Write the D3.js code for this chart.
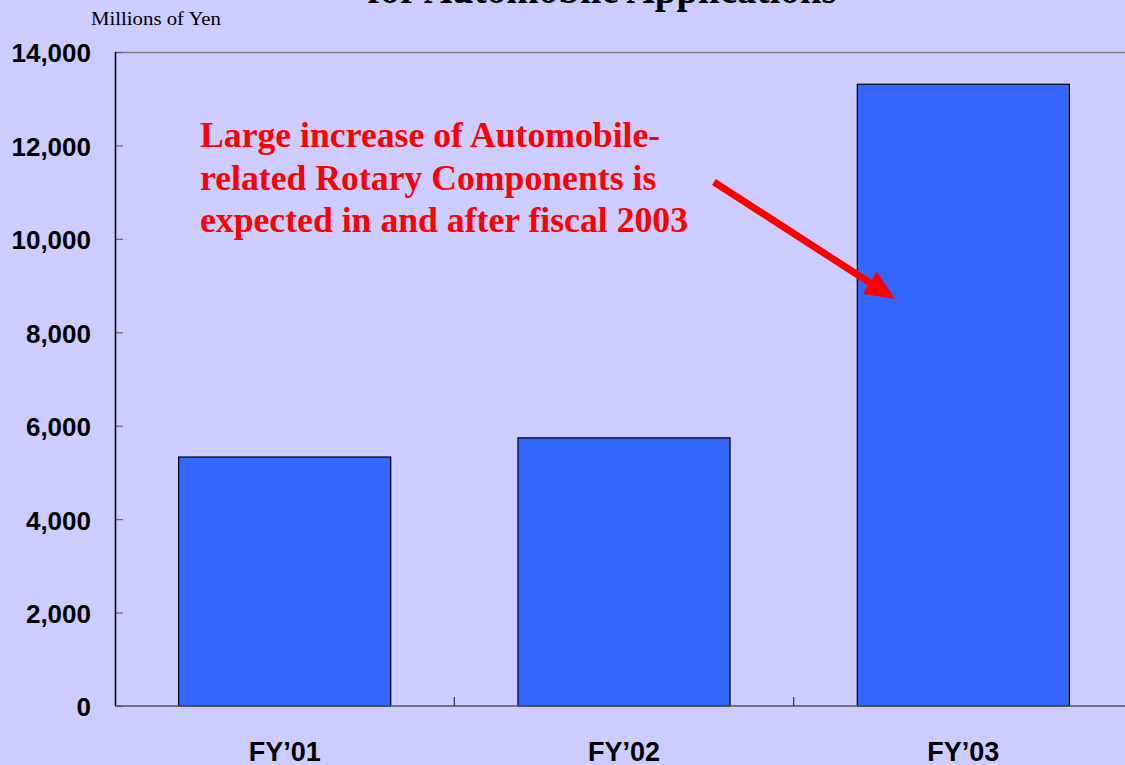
<!DOCTYPE html>
<html>
<head>
<meta charset="utf-8">
<script src="https://cdn.jsdelivr.net/npm/d3@7"></script>
<style>
  body { margin: 0; background: #CCCCFF; overflow: hidden; }
  svg { display: block; }
</style>
</head>
<body>
<div class="chart"></div>
<script>
var categories = ["FY\u201901", "FY\u201902", "FY\u201903"];
var sales = [5330, 5740, 13310];
var yTicks = [0, 2000, 4000, 6000, 8000, 10000, 12000, 14000];
var noteLines = ["Large increase of Automobile-",
                 "related Rotary Components is",
                 "expected in and after fiscal 2003"];

var width = 1125,
    height = 765,
    margin = {top: 52, right: -8, bottom: 59, left: 115};

var plotW = width - margin.left - margin.right,
    plotH = height - margin.top - margin.bottom;

var svg = d3.select(".chart").append("svg")
    .attr("width", width)
    .attr("height", height);

svg.append("rect")
    .attr("width", width)
    .attr("height", height)
    .attr("fill", "#CCCCFF");

var x = d3.scaleBand()
    .domain(categories)
    .range([0, plotW])
    .paddingInner(0.375)
    .paddingOuter(0.1875);

var y = d3.scaleLinear()
    .domain([0, 14000])
    .range([plotH, 0]);

var g = svg.append("g")
    .attr("transform", "translate(" + margin.left + "," + margin.top + ")");

// top border of the plot
g.append("line")
    .attr("x1", 0).attr("x2", plotW)
    .attr("y1", 0.5).attr("y2", 0.5)
    .attr("stroke", "#808080")
    .attr("stroke-width", 1.5);

// bars
g.selectAll("rect.bar")
    .data(sales)
    .enter().append("rect")
    .attr("class", "bar")
    .attr("x", function(d, i) { return x(categories[i]); })
    .attr("y", function(d) { return y(d); })
    .attr("width", x.bandwidth())
    .attr("height", function(d) { return plotH - y(d); })
    .attr("fill", "#3366FF")
    .attr("stroke", "#000")
    .attr("stroke-width", 1.2);

// y axis: ticks point inwards, labels on the left
var yAxis = g.append("g")
    .call(d3.axisRight(y).tickValues(yTicks).tickSize(8).tickFormat(""));
yAxis.select(".domain").remove();
yAxis.selectAll("line").attr("stroke", "#666").attr("stroke-width", 1.2);

g.append("line")
    .attr("x1", 0.5).attr("x2", 0.5)
    .attr("y1", 0).attr("y2", plotH)
    .attr("stroke", "#000")
    .attr("stroke-width", 1.5);

g.selectAll("text.ylab")
    .data(yTicks)
    .enter().append("text")
    .attr("class", "ylab")
    .attr("x", -24)
    .attr("y", function(d) { return y(d); })
    .attr("dy", "0.4em")
    .attr("text-anchor", "end")
    .style("font-family", "'Liberation Sans', Arial, sans-serif")
    .style("font-weight", "bold")
    .style("font-size", "26px")
    .style("fill", "#000")
    .text(function(d) { return d3.format(",")(d); });

// x axis: baseline and band-boundary ticks pointing up
var step = x.step();
var bounds = categories.slice(1).map(function(c) { return x(c) - step * x.paddingInner() / 2; });

g.append("line")
    .attr("x1", 0).attr("x2", plotW)
    .attr("y1", plotH).attr("y2", plotH)
    .attr("stroke", "#555")
    .attr("stroke-width", 1.5);

g.selectAll("line.xtick")
    .data(bounds)
    .enter().append("line")
    .attr("class", "xtick")
    .attr("x1", function(d) { return d; })
    .attr("x2", function(d) { return d; })
    .attr("y1", plotH)
    .attr("y2", plotH - 9)
    .attr("stroke", "#333")
    .attr("stroke-width", 1.2);

g.selectAll("text.xlab")
    .data(categories)
    .enter().append("text")
    .attr("class", "xlab")
    .attr("x", function(d) { return x(d) + x.bandwidth() / 2; })
    .attr("y", plotH + 55)
    .attr("text-anchor", "middle")
    .style("font-family", "'Liberation Sans', Arial, sans-serif")
    .style("font-weight", "bold")
    .style("font-size", "27px")
    .style("fill", "#000")
    .text(function(d) { return d; });

// title (cut off at the top of the frame)
svg.append("text")
    .attr("x", 602)
    .attr("y", 3)
    .attr("text-anchor", "middle")
    .style("font-family", "'Liberation Serif', 'Times New Roman', serif")
    .style("font-weight", "bold")
    .style("font-size", "39px")
    .style("fill", "#000")
    .text("for Automobile Applications");

svg.append("text")
    .attr("x", 91)
    .attr("y", 25)
    .attr("textLength", 130)
    .attr("lengthAdjust", "spacingAndGlyphs")
    .style("font-family", "'Liberation Serif', 'Times New Roman', serif")
    .style("font-size", "19px")
    .style("fill", "#000")
    .text("Millions of Yen");

// annotation
svg.selectAll("text.note")
    .data(noteLines)
    .enter().append("text")
    .attr("class", "note")
    .attr("x", 200)
    .attr("y", function(d, i) { return 147 + i * 42.5; })
    .style("font-family", "'Liberation Serif', 'Times New Roman', serif")
    .style("font-weight", "bold")
    .style("font-size", "35.7px")
    .style("fill", "#FF0000")
    .text(function(d) { return d; });

// arrow
var a0 = [714, 182], a1 = [895, 299];
var ang = Math.atan2(a1[1] - a0[1], a1[0] - a0[0]);
var headLen = 30, headHalf = 13;
var base = [a1[0] - headLen * Math.cos(ang), a1[1] - headLen * Math.sin(ang)];

svg.append("line")
    .attr("x1", a0[0]).attr("y1", a0[1])
    .attr("x2", base[0] + 2 * Math.cos(ang)).attr("y2", base[1] + 2 * Math.sin(ang))
    .attr("stroke", "#FF0000")
    .attr("stroke-width", 7);

svg.append("path")
    .attr("d", d3.line()([
        a1,
        [base[0] + headHalf * Math.sin(ang), base[1] - headHalf * Math.cos(ang)],
        [base[0] - headHalf * Math.sin(ang), base[1] + headHalf * Math.cos(ang)]
    ]) + "Z")
    .attr("fill", "#FF0000");
</script>
</body>
</html>
